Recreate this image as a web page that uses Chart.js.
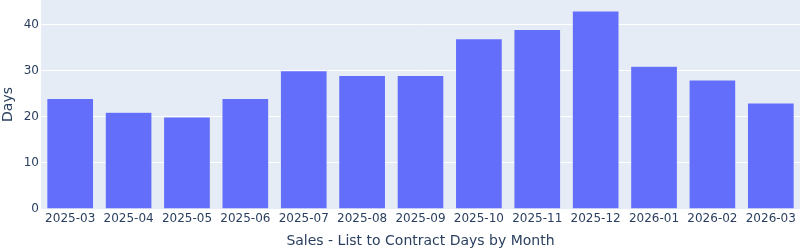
<!DOCTYPE html>
<html>
<head>
<meta charset="utf-8">
<script src="https://cdn.jsdelivr.net/npm/chart.js@4.4.1/dist/chart.umd.min.js"></script>
<style>
  body { margin: 0; background: #ffffff; }
  #wrap { width: 800px; height: 250px; }
</style>
</head>
<body>
<div id="wrap"><canvas id="daysChart" width="800" height="250"></canvas></div>
<script>
const months = ['2025-03', '2025-04', '2025-05', '2025-06', '2025-07', '2025-08', '2025-09',
    '2025-10', '2025-11', '2025-12', '2026-01', '2026-02', '2026-03'];
const days = [24, 21, 20, 24, 30, 29, 29, 37, 39, 43, 31, 28, 23];
const yTicks = [0, 10, 20, 30, 40];

const fontFamily = '"DejaVu Sans", verdana, arial, sans-serif';
const textColor = '#2a3f5f';

// plotly style autorange: a little headroom above the tallest bar
const yMax = Math.max(...days) * 1.0556;

// fills the plot area with the light blue-grey
const plotBg = {
    id: 'plotBg',
    beforeDraw(chart) {
        const { ctx, chartArea } = chart;
        ctx.save();
        ctx.fillStyle = '#E5ECF6';
        ctx.fillRect(chartArea.left, chartArea.top, chartArea.right - chartArea.left, chartArea.bottom - chartArea.top);
        ctx.restore();
    }
};

const config = {
    type: 'bar',
    data: {
        labels: months,
        datasets: [{
            label: 'Days',
            data: days,
            backgroundColor: '#636EFA',
            borderColor: '#E5ECF6',
            borderWidth: 0.5,
            barPercentage: 0.8,
            categoryPercentage: 1.0
        }]
    },
    options: {
        responsive: false,
        animation: false,
        layout: { padding: 0 },
        plugins: {
            legend: { display: false },
            tooltip: { enabled: false }
        },
        scales: {
            x: {
                grid: { display: false, drawTicks: false },
                border: { display: false },
                ticks: {
                    color: textColor,
                    font: { family: fontFamily, size: 12 },
                    padding: 3,
                    maxRotation: 0,
                    autoSkip: false
                },
                title: {
                    display: true,
                    text: 'Sales - List to Contract Days by Month',
                    color: textColor,
                    font: { family: fontFamily, size: 14 },
                    padding: 0
                },
                afterFit(scale) {
                    scale.height = 41;
                    scale.paddingLeft = 0;
                    scale.paddingRight = 0;
                }
            },
            y: {
                min: 0,
                max: yMax,
                grid: { color: '#ffffff', lineWidth: 1, drawTicks: false },
                border: { display: false },
                ticks: {
                    color: textColor,
                    font: { family: fontFamily, size: 12 },
                    padding: 2
                },
                afterBuildTicks(scale) {
                    scale.ticks = yTicks.map(v => ({ value: v }));
                },
                title: {
                    display: true,
                    text: 'Days',
                    color: textColor,
                    font: { family: fontFamily, size: 14 },
                    padding: 0
                },
                afterFit(scale) {
                    scale.width = 41;
                    scale.paddingTop = 0;
                    scale.paddingBottom = 0;
                }
            }
        }
    },
    plugins: [plotBg]
};

var daysChart = new Chart(document.getElementById('daysChart'), config);
</script>
</body>
</html>
